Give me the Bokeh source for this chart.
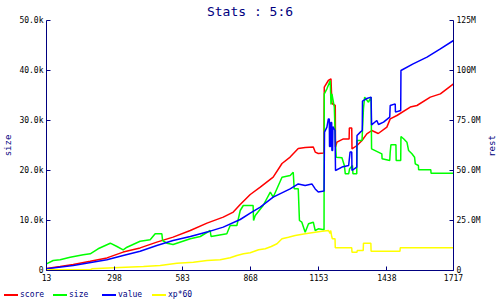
from bokeh.plotting import figure
from bokeh.layouts import column, row
from bokeh.models import Range1d, LinearAxis, FixedTicker, Div
from bokeh.embed import file_html
from bokeh.resources import INLINE

# ---- data ----
x_ticks = [13, 298, 583, 868, 1153, 1438, 1717]
size_ticks = [0, 10, 20, 30, 40, 50]                      # thousands
size_tick_labels = ["0", "10.0k", "20.0k", "30.0k", "40.0k", "50.0k"]
rest_ticks = [0, 25, 50, 75, 100, 125]                    # millions
rest_tick_labels = ["0", "25.0M", "50.0M", "75.0M", "100M", "125M"]
series_names = ["score", "size", "value", "xp*60"]
series_colors = ["#ff0000", "#00ff00", "#0000ff", "#ffff00"]

score_x = [13, 70, 125, 196, 266, 334, 405, 475, 543, 615, 685, 753, 795, 824, 866, 908, 962, 999,
           1033, 1067, 1096, 1130, 1138, 1151, 1174, 1176, 1193, 1204, 1208, 1222, 1223, 1229, 1256,
           1280, 1281, 1291, 1292, 1313, 1334, 1354, 1375, 1402, 1438, 1452, 1480, 1536, 1564, 1620,
           1662, 1717]
score_M = [1.0, 2.0, 3.0, 4.6, 6.3, 9.2, 11.3, 14.2, 16.7, 20.0, 23.7, 26.7, 29.2, 33.0, 38.0, 41.7,
           46.7, 53.5, 56.7, 61.0, 61.5, 61.7, 59.2, 58.5, 58.7, 91.7, 95.0, 95.8, 83.5, 82.5, 61.7,
           64.2, 65.8, 65.8, 71.3, 71.3, 60.8, 62.5, 65.0, 68.3, 70.0, 68.5, 71.7, 75.8, 77.5, 81.7,
           82.5, 86.7, 88.3, 93.3]

size_x = [13, 41, 70, 112, 167, 196, 229, 280, 308, 334, 350, 405, 447, 468, 496, 499, 517, 543, 615,
          657, 698, 702, 768, 782, 810, 824, 837, 878, 880, 887, 920, 950, 962, 999, 1033, 1046, 1050,
          1067, 1072, 1082, 1096, 1110, 1130, 1138, 1151, 1175, 1176, 1187, 1201, 1204, 1208, 1218,
          1222, 1226, 1250, 1260, 1264, 1278, 1282, 1294, 1296, 1312, 1313, 1334, 1340, 1345, 1361,
          1372, 1374, 1417, 1418, 1450, 1452, 1455, 1476, 1477, 1496, 1497, 1508, 1522, 1529, 1543,
          1554, 1557, 1570, 1571, 1622, 1623, 1717]
size_k = [1.34, 2.0, 2.14, 2.66, 3.14, 3.34, 4.34, 5.46, 4.8, 4.14, 4.66, 5.86, 6.14, 7.34, 7.34, 6.0,
          5.46, 5.2, 6.34, 6.8, 8.0, 6.8, 7.34, 9.0, 9.0, 12.0, 13.0, 13.0, 10.0, 11.0, 13.0, 15.66,
          14.66, 18.66, 19.0, 19.66, 16.34, 16.34, 10.0, 9.66, 7.66, 9.34, 9.66, 8.0, 8.34, 8.14, 35.34,
          36.34, 38.0, 33.2, 35.34, 32.66, 26.34, 22.66, 22.54, 21.0, 19.34, 19.34, 20.34, 21.0, 19.34,
          19.34, 26.0, 26.0, 32.34, 34.66, 33.66, 34.66, 24.34, 23.34, 22.34, 22.0, 23.66, 25.14, 25.14,
          22.0, 22.0, 26.8, 26.34, 25.66, 24.0, 23.34, 22.66, 21.34, 21.0, 20.14, 20.14, 19.46, 19.46]

value_x = [13, 125, 266, 334, 405, 475, 543, 615, 685, 753, 824, 866, 908, 962, 1033, 1067, 1096, 1124,
           1138, 1151, 1175, 1177, 1187, 1193, 1197, 1198, 1202, 1203, 1207, 1208, 1211, 1212, 1221,
           1223, 1250, 1278, 1284, 1291, 1292, 1312, 1313, 1327, 1335, 1336, 1354, 1372, 1374, 1396,
           1403, 1424, 1450, 1452, 1473, 1474, 1496, 1497, 1548, 1606, 1662, 1717]
value_M = [0.85, 2.5, 5.35, 7.5, 9.65, 12.5, 15.0, 17.0, 19.2, 21.7, 25.5, 28.7, 31.7, 36.7, 40.8, 43.3,
           42.5, 43.3, 40.8, 39.2, 39.7, 69.2, 71.7, 75.8, 75.8, 62.0, 62.0, 74.0, 74.0, 60.0, 60.0,
           72.0, 70.0, 50.0, 51.7, 52.5, 59.2, 59.2, 50.0, 51.7, 67.5, 69.2, 70.0, 84.7, 86.0, 86.7,
           72.8, 75.0, 73.0, 74.2, 76.7, 82.5, 83.3, 79.2, 80.0, 100.0, 103.3, 106.7, 110.8, 115.0]

xp_x = [13, 196, 203, 294, 419, 489, 559, 628, 685, 740, 782, 810, 838, 866, 901, 929, 954, 978, 999,
        1026, 1054, 1096, 1166, 1194, 1200, 1203, 1207, 1210, 1221, 1222, 1291, 1292, 1313, 1314, 1339,
        1340, 1371, 1372, 1493, 1494, 1717]
xp_M = [0.35, 0.35, 0.85, 1.35, 2.0, 2.5, 3.65, 4.15, 5.0, 5.35, 6.35, 7.5, 8.35, 8.85, 10.35, 10.85,
        12.0, 13.35, 15.85, 16.65, 17.5, 18.35, 19.65, 20.0, 18.5, 20.0, 17.0, 15.85, 15.85, 11.35,
        11.35, 9.15, 9.15, 10.0, 10.0, 13.65, 13.65, 9.65, 9.65, 11.35, 11.35]

NAVY = "#000080"
MONO = "DejaVu Sans Mono"

p = figure(width=484, height=285, output_backend="svg", toolbar_location=None,
           x_range=Range1d(13, 1717), y_range=Range1d(0, 50),
           min_border_left=46, min_border_right=31, min_border_top=20, min_border_bottom=15)
p.extra_y_ranges = {"rest": Range1d(0, 125)}
p.outline_line_color = None
p.grid.visible = False
p.background_fill_color = "white"
p.border_fill_color = "white"

p.title.text = "Stats : 5:6"
p.title.align = "center"
p.title.vertical_align = "top"
p.title.text_font = MONO
p.title.text_font_size = "13px"
p.title.text_font_style = "normal"
p.title.text_color = NAVY
p.title.standoff = 0
p.title.offset = 0

def style_axis(ax, ticks, labels=None):
    ax.ticker = FixedTicker(ticks=ticks)
    if labels is not None:
        ax.major_label_overrides = {t: l for t, l in zip(ticks, labels)}
    ax.axis_line_color = NAVY
    ax.major_tick_line_color = NAVY
    ax.major_tick_in = 4
    ax.major_tick_out = 0
    ax.minor_tick_line_color = None
    ax.major_label_text_font = MONO
    ax.major_label_text_font_size = "8px"
    ax.major_label_text_color = "black"
    ax.major_label_standoff = 3
    ax.axis_label_text_font = MONO
    ax.axis_label_text_font_size = "9px"
    ax.axis_label_text_font_style = "normal"
    ax.axis_label_text_color = NAVY

style_axis(p.xaxis[0], x_ticks)
style_axis(p.yaxis[0], size_ticks, size_tick_labels)
p.yaxis[0].axis_label = "size"
p.yaxis[0].axis_label_standoff = 3

right = LinearAxis(y_range_name="rest")
style_axis(right, rest_ticks, rest_tick_labels)
p.add_layout(right, "right")

p.line(score_x, score_M, y_range_name="rest", line_color=series_colors[0], line_width=1.5)
p.line(size_x, size_k, line_color=series_colors[1], line_width=1.5)
p.line(value_x, value_M, y_range_name="rest", line_color=series_colors[2], line_width=1.5)
p.line(xp_x, xp_M, y_range_name="rest", line_color=series_colors[3], line_width=1.5)

# right-hand axis title, reading bottom-to-top like the left one
rest_div = Div(width=16, height=285, margin=(0, 0, 0, 0),
               text=('<div style="position:relative;width:16px;height:285px;">'
                     '<span style="position:absolute;left:8px;top:146px;white-space:nowrap;'
                     'transform:translate(-50%,-50%) rotate(-90deg);font-family:\'DejaVu Sans Mono\';'
                     'font-size:9px;line-height:9px;color:#000080;">rest</span></div>'))

# legend strip
legend_left = [4, 53, 102, 152]
parts = ['<div style="position:relative;width:500px;height:15px;font-family:\'DejaVu Sans Mono\';'
         'font-size:8px;color:#000080;">']
for name, col, lx in zip(series_names, series_colors, legend_left):
    parts.append('<span style="position:absolute;left:%dpx;top:9px;width:14px;height:2px;'
                 'background:%s;"></span>' % (lx, col))
    parts.append('<span style="position:absolute;left:%dpx;top:5px;line-height:10px;'
                 'white-space:nowrap;">%s</span>' % (lx + 16, name))
parts.append('</div>')
legend_div = Div(width=500, height=15, margin=(0, 0, 0, 0), text="".join(parts))

layout = column(row(p, rest_div, spacing=0), legend_div, spacing=0)
open("out.html", "w").write(file_html(layout, INLINE))
